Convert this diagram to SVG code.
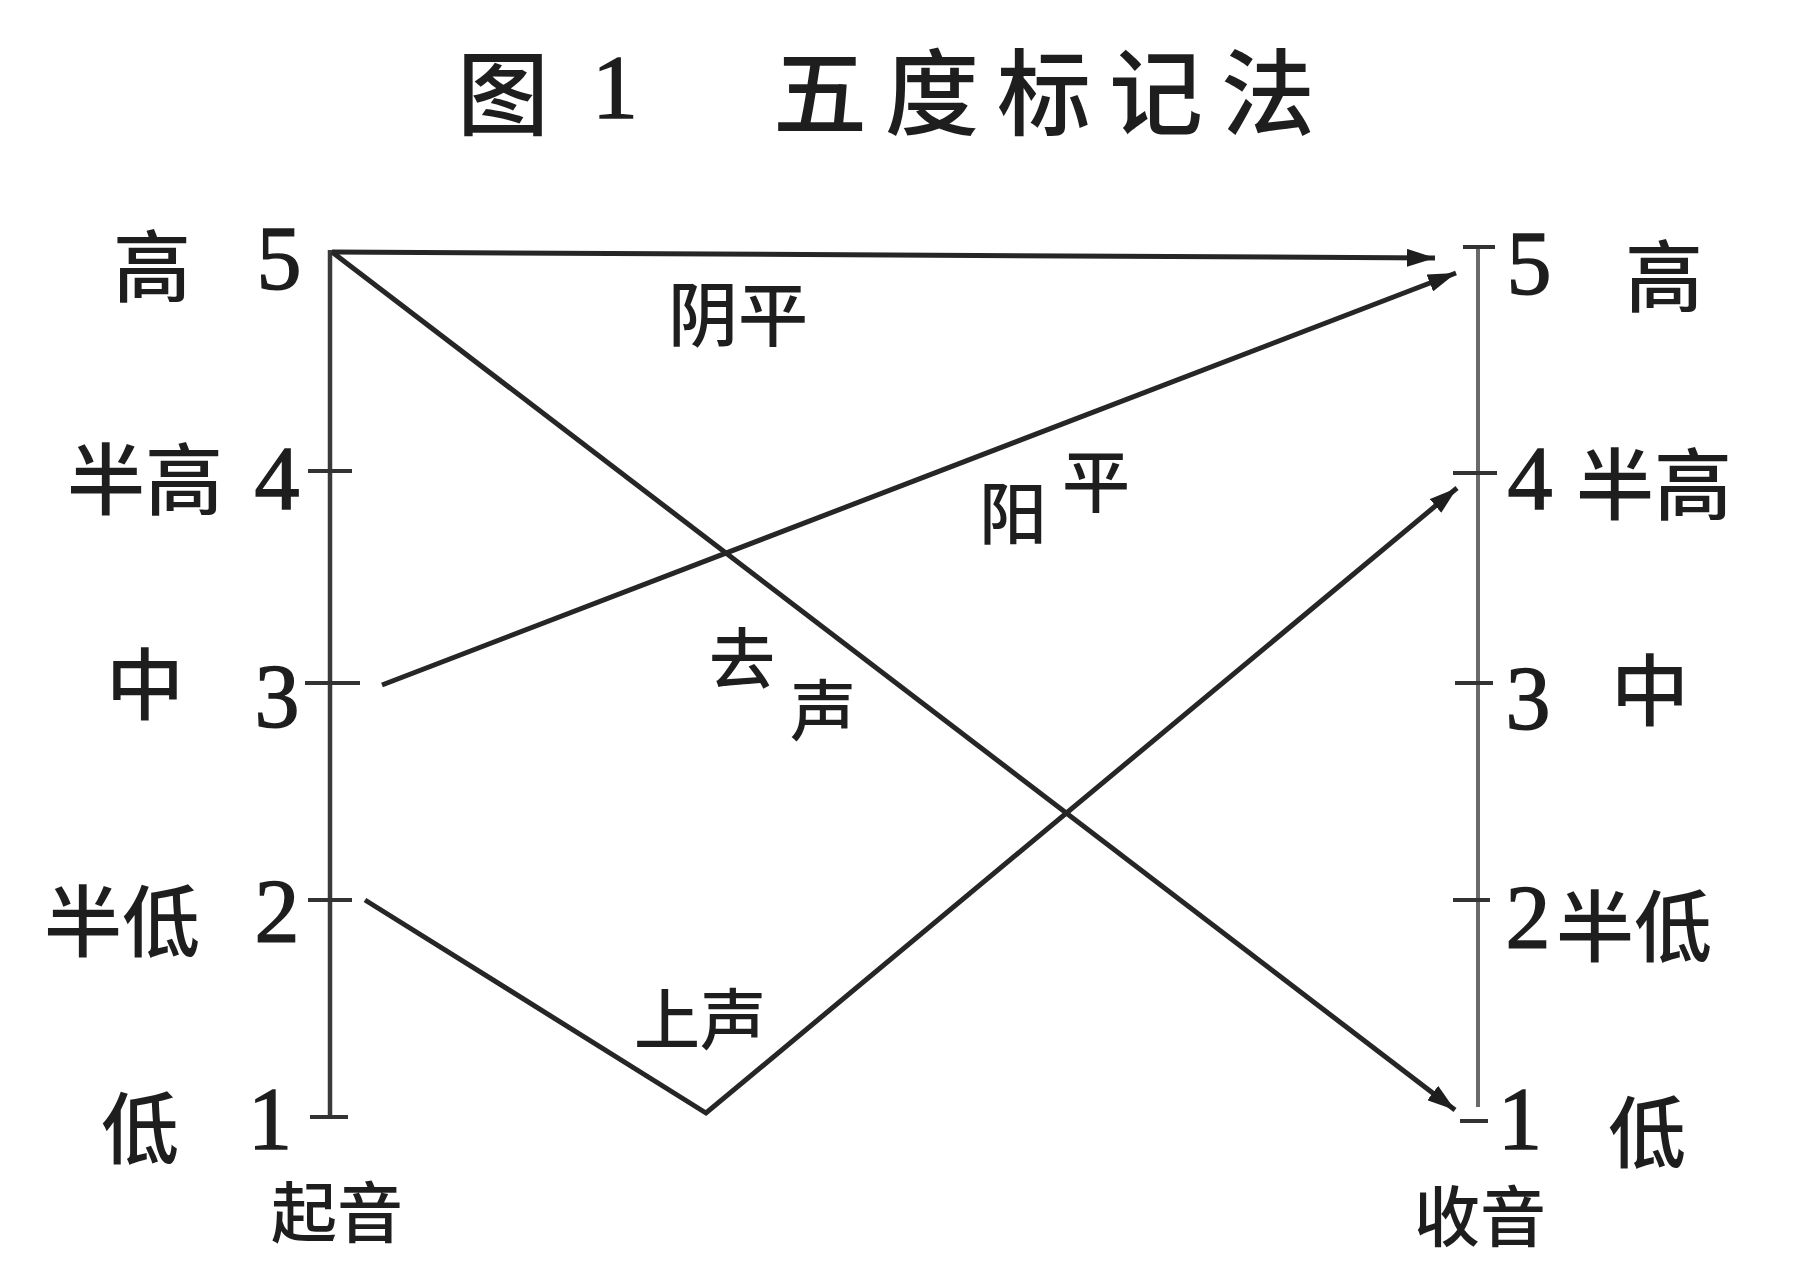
<svg xmlns="http://www.w3.org/2000/svg" width="1815" height="1280" viewBox="0 0 1815 1280">
<defs>
<style>
.cn{font-family:"Noto Sans CJK SC","Noto Sans CJK TC",sans-serif;font-weight:500;fill:#1e1e1e;text-anchor:middle;dominant-baseline:central}
.num{font-family:"Liberation Serif",serif;fill:#1e1e1e;stroke:#1e1e1e;stroke-width:1.5;text-anchor:middle;dominant-baseline:central}
.axis{stroke:#3a3a3a;stroke-width:4.5;fill:none}
.axisr{stroke:#6a6a6a;stroke-width:4;fill:none}
.tick{stroke:#333;stroke-width:4}
.tone{stroke:#262626;stroke-width:5;fill:none;stroke-linejoin:miter}
</style>
<marker id="arr" markerUnits="userSpaceOnUse" markerWidth="30" markerHeight="18" refX="28" refY="9" orient="auto">
<path d="M0,0 L28,9 L0,18 z" fill="#1e1e1e"/>
</marker>
</defs>
<rect width="1815" height="1280" fill="#ffffff"/>

<g id="title">
<text class="cn" x="503" y="87" font-size="92">图</text>
<text class="num" x="615" y="87" font-size="92">1</text>
<text class="cn" x="820 932 1044 1156 1268" y="87" font-size="94">五度标记法</text>
</g>

<g id="left-axis">
<line class="axis" x1="330" y1="250" x2="330" y2="1117"/>
<line class="tick" x1="308" y1="471" x2="352" y2="471"/>
<line class="tick" x1="305" y1="683" x2="360" y2="683"/>
<line class="tick" x1="308" y1="900" x2="352" y2="900"/>
<line class="tick" x1="310" y1="1117" x2="348" y2="1117"/>
<text class="cn" x="152" y="262" font-size="78">高</text>
<text class="num" x="279" y="258" font-size="90">5</text>
<text class="cn" x="145" y="475" font-size="78">半高</text>
<text class="num" x="277" y="478" font-size="90">4</text>
<text class="cn" x="145" y="680" font-size="78">中</text>
<text class="num" x="277" y="696" font-size="90">3</text>
<text class="cn" x="122" y="917" font-size="78">半低</text>
<text class="num" x="277" y="911" font-size="90">2</text>
<text class="cn" x="140" y="1124" font-size="78">低</text>
<text class="num" x="270" y="1118" font-size="88">1</text>
<text class="cn" x="337" y="1208" font-size="66">起音</text>
</g>

<g id="right-axis">
<line class="axisr" x1="1478" y1="247" x2="1478" y2="1107"/>
<line class="tick" x1="1463" y1="247" x2="1495" y2="247"/>
<line class="tick" x1="1453" y1="473" x2="1497" y2="473"/>
<line class="tick" x1="1455" y1="683" x2="1493" y2="683"/>
<line class="tick" x1="1453" y1="900" x2="1490" y2="900"/>
<line class="tick" x1="1460" y1="1121" x2="1488" y2="1121"/>
<text class="num" x="1529" y="263" font-size="90">5</text>
<text class="cn" x="1664" y="272" font-size="78">高</text>
<text class="num" x="1530" y="478" font-size="90">4</text>
<text class="cn" x="1654" y="480" font-size="78">半高</text>
<text class="num" x="1528" y="698" font-size="90">3</text>
<text class="cn" x="1650" y="686" font-size="78">中</text>
<text class="num" x="1528" y="917" font-size="90">2</text>
<text class="cn" x="1634" y="922" font-size="78">半低</text>
<text class="num" x="1520" y="1118" font-size="88">1</text>
<text class="cn" x="1480" y="1212" font-size="66">收音</text>
<text class="cn" x="1647" y="1128" font-size="78">低</text>
</g>

<g id="connectors">
<path id="yinping" class="tone" d="M332,252 L1435,258" marker-end="url(#arr)"/>
<path id="yangping" class="tone" d="M382,685 L1456,273" marker-end="url(#arr)"/>
<path id="qusheng" class="tone" d="M332,252 L1455,1110" marker-end="url(#arr)"/>
<path id="shangsheng" class="tone" d="M365,900 L706,1113 L1457,488" marker-end="url(#arr)"/>
</g>

<g id="tone-labels">
<text class="cn" x="738" y="310" font-size="70">阴平</text>
<text class="cn" x="1013" y="509" font-size="68">阳</text>
<text class="cn" x="1096" y="477" font-size="68">平</text>
<text class="cn" x="742" y="654" font-size="66">去</text>
<text class="cn" x="823" y="706" font-size="66">声</text>
<text class="cn" x="700" y="1015" font-size="66">上声</text>
</g>
</svg>
